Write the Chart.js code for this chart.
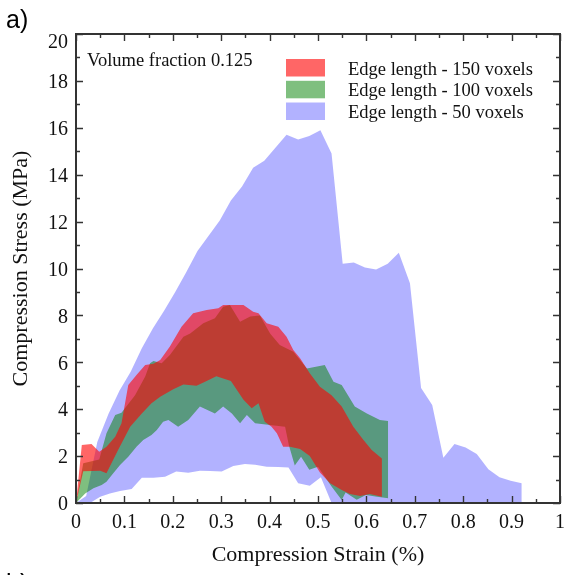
<!DOCTYPE html>
<html>
<head>
<meta charset="utf-8">
<script src="https://cdn.jsdelivr.net/npm/chart.js@4.4.0/dist/chart.umd.min.js"></script>
<style>
html,body{margin:0;padding:0;background:#fff;}
#wrap{position:relative;width:568px;height:575px;overflow:hidden;}
</style>
</head>
<body>
<div id="wrap"><canvas id="c" width="568" height="575"></canvas></div>
<script>
// ---- Data (strain in %, stress in MPa) ----
const seriesLabels = ['Edge length - 150 voxels', 'Edge length - 100 voxels', 'Edge length - 50 voxels'];
const seriesColors = ['rgba(255,0,0,0.6)', 'rgba(0,128,0,0.5)', 'rgba(0,0,255,0.3)'];
const panelNote = 'Volume fraction 0.125';

const redUpperX = [0, 0.012, 0.032, 0.048, 0.063, 0.081, 0.094, 0.108, 0.125, 0.143, 0.160, 0.174, 0.194, 0.218, 0.242, 0.270, 0.294, 0.304, 0.325, 0.346, 0.366, 0.377, 0.394, 0.418, 0.435, 0.449, 0.463, 0.483, 0.504, 0.528, 0.549, 0.573, 0.594, 0.611, 0.632];
const redUpperY = [0, 2.47, 2.52, 2.19, 2.40, 2.83, 3.40, 5.03, 5.46, 5.88, 5.94, 6.10, 6.67, 7.52, 8.09, 8.23, 8.30, 8.44, 8.44, 8.44, 8.16, 8.09, 7.66, 7.52, 7.09, 6.52, 6.17, 5.53, 4.96, 4.60, 4.11, 3.25, 2.69, 2.26, 1.90];
const redLowerX = [0, 0.015, 0.050, 0.063, 0.087, 0.112, 0.136, 0.156, 0.174, 0.201, 0.222, 0.249, 0.270, 0.290, 0.320, 0.346, 0.363, 0.377, 0.390, 0.404, 0.415, 0.428, 0.442, 0.463, 0.483, 0.504, 0.525, 0.549, 0.566, 0.587, 0.607, 0.632];
const redLowerY = [0, 1.35, 1.38, 1.27, 2.26, 3.25, 3.82, 4.25, 4.53, 4.85, 5.05, 5.00, 5.20, 5.40, 5.20, 4.40, 4.04, 4.25, 3.47, 3.25, 2.97, 2.40, 2.40, 2.30, 2.00, 1.30, 0.84, 0.55, 0.38, 0.30, 0.38, 0.27];

const greenUpperX = [0, 0.015, 0.048, 0.063, 0.081, 0.094, 0.122, 0.143, 0.153, 0.160, 0.177, 0.194, 0.222, 0.236, 0.263, 0.287, 0.304, 0.318, 0.339, 0.360, 0.380, 0.401, 0.421, 0.449, 0.477, 0.514, 0.532, 0.549, 0.576, 0.601, 0.628, 0.645];
const greenUpperY = [0, 1.70, 1.85, 2.97, 3.75, 3.85, 4.60, 5.39, 5.96, 6.06, 5.96, 6.31, 7.09, 7.23, 7.66, 7.88, 8.37, 8.44, 7.73, 7.95, 8.00, 7.23, 6.74, 6.45, 5.74, 5.88, 5.17, 5.03, 4.11, 3.82, 3.54, 3.50];
const greenLowerX = [0, 0.019, 0.036, 0.053, 0.063, 0.077, 0.091, 0.108, 0.125, 0.139, 0.156, 0.167, 0.180, 0.191, 0.211, 0.232, 0.256, 0.287, 0.304, 0.322, 0.339, 0.353, 0.370, 0.401, 0.432, 0.440, 0.452, 0.465, 0.482, 0.500, 0.528, 0.549, 0.557, 0.580, 0.599, 0.622, 0.645];
const greenLowerY = [0, 0.41, 0.63, 0.77, 0.91, 1.27, 1.62, 1.97, 2.40, 2.69, 2.90, 3.11, 3.47, 3.54, 3.25, 3.54, 4.11, 3.82, 4.11, 3.82, 3.40, 3.75, 3.40, 3.33, 3.25, 2.45, 1.60, 1.97, 1.42, 1.55, 0.70, 0.13, 0.45, 0.14, 0.34, 0.27, 0.20];

const blueUpperX = [0, 0.021, 0.044, 0.067, 0.090, 0.113, 0.136, 0.159, 0.182, 0.205, 0.228, 0.251, 0.274, 0.297, 0.320, 0.343, 0.366, 0.389, 0.412, 0.435, 0.459, 0.482, 0.505, 0.528, 0.551, 0.574, 0.597, 0.620, 0.644, 0.667, 0.690, 0.713, 0.736, 0.759, 0.782, 0.805, 0.828, 0.852, 0.875, 0.898, 0.921];
const blueUpperY = [0, 0.30, 2.60, 3.80, 4.80, 5.60, 6.60, 7.45, 8.20, 9.00, 9.85, 10.75, 11.40, 12.05, 12.90, 13.50, 14.30, 14.60, 15.15, 15.70, 15.50, 15.65, 15.90, 14.90, 10.20, 10.26, 10.04, 9.96, 10.20, 10.67, 9.37, 4.90, 4.18, 1.93, 2.52, 2.37, 2.09, 1.44, 1.10, 0.95, 0.84];
const blueLowerX = [0, 0.029, 0.050, 0.070, 0.091, 0.115, 0.136, 0.160, 0.184, 0.207, 0.232, 0.256, 0.277, 0.301, 0.325, 0.349, 0.370, 0.394, 0.418, 0.439, 0.459, 0.483, 0.506, 0.528, 0.921];
const blueLowerY = [0, 0, 0.27, 0.41, 0.51, 0.60, 1.08, 1.08, 1.12, 1.34, 1.29, 1.38, 1.36, 1.34, 1.58, 1.66, 1.63, 1.55, 1.54, 1.51, 0.84, 0.74, 1.10, 0, 0];

const xTickValues = [0, 0.1, 0.2, 0.3, 0.4, 0.5, 0.6, 0.7, 0.8, 0.9, 1];
const yTickValues = [0, 2, 4, 6, 8, 10, 12, 14, 16, 18, 20];

// ---- build datasets ----
const pts = (xs, ys) => xs.map((x, i) => ({x: x, y: ys[i]}));
function band(label, color, ux, uy, lx, ly) {
  return [
    {label: label, data: pts(ux, uy), fill: '+1', backgroundColor: color, borderColor: 'rgba(0,0,0,0)', borderWidth: 0, pointRadius: 0, pointHoverRadius: 0, tension: 0},
    {label: label + ' (lower)', data: pts(lx, ly), fill: false, backgroundColor: color, borderColor: 'rgba(0,0,0,0)', borderWidth: 0, pointRadius: 0, pointHoverRadius: 0, tension: 0}
  ];
}
const datasets = [
  ...band(seriesLabels[0], seriesColors[0], redUpperX, redUpperY, redLowerX, redLowerY),
  ...band(seriesLabels[1], seriesColors[1], greenUpperX, greenUpperY, greenLowerX, greenLowerY),
  ...band(seriesLabels[2], seriesColors[2], blueUpperX, blueUpperY, blueLowerX, blueLowerY)
];

const SERIF = '"Liberation Serif", "Times New Roman", serif';
const AXIS = '#333';
const yTop = yTickValues[yTickValues.length - 1];

const decor = {
  id: 'decor',
  afterDatasetsDraw(chart) {
    const {ctx, chartArea: a, scales: {x, y}} = chart;
    ctx.save();
    ctx.strokeStyle = AXIS;
    ctx.lineWidth = 1.4;
    ctx.beginPath();
    for (let i = 0; i <= 20; i++) {
      const px = Math.round(x.getPixelForValue(i * 0.05)) + 0.5;
      const len = i % 2 === 0 ? 7 : 4;
      ctx.moveTo(px, a.bottom); ctx.lineTo(px, a.bottom - len);
      ctx.moveTo(px, a.top); ctx.lineTo(px, a.top + len);
    }
    for (let i = 0; i <= 20; i++) {
      const py = Math.round(y.getPixelForValue(i)) + 0.5;
      const len = i % 2 === 0 ? 7 : 4;
      ctx.moveTo(a.left, py); ctx.lineTo(a.left + len, py);
      ctx.moveTo(a.right, py); ctx.lineTo(a.right - len, py);
    }
    ctx.stroke();
    ctx.lineWidth = 2;
    ctx.strokeRect(a.left, a.top, a.right - a.left, a.bottom - a.top);
    ctx.restore();
  },
  afterDraw(chart) {
    const {ctx, chartArea: a, scales: {y}} = chart;
    ctx.save();
    ctx.fillStyle = '#111';
    ctx.textBaseline = 'alphabetic';
    // top y label sits just below the frame in the reference
    ctx.textAlign = 'right';
    ctx.font = '20px ' + SERIF;
    ctx.fillText(String(yTop), a.left - 8, y.getPixelForValue(yTop) + 14);
    ctx.textAlign = 'left';
    ctx.font = '18.5px ' + SERIF;
    ctx.fillText(panelNote, 87, 66);
    const rows = [74.5, 96.3, 118];
    for (let i = 0; i < 3; i++) {
      ctx.fillStyle = seriesColors[i];
      ctx.fillRect(286, rows[i] - 15.5, 39, 17.5);
      ctx.fillStyle = '#111';
      ctx.fillText(seriesLabels[i], 348, rows[i]);
    }
    ctx.font = '25px "Liberation Sans", Arial, sans-serif';
    ctx.fillStyle = '#000';
    ctx.fillText('a)', 6, 28);
    ctx.fillText('b)', 6, 592);
    ctx.restore();
  }
};

function zeroPad(s) { s.paddingLeft = 0; s.paddingRight = 0; s.paddingTop = 0; s.paddingBottom = 0; }

new Chart(document.getElementById('c'), {
  type: 'line',
  data: {datasets: datasets},
  options: {
    responsive: false,
    animation: false,
    devicePixelRatio: 1,
    layout: {padding: {top: 34, right: 8, bottom: 0, left: 0}},
    plugins: {legend: {display: false}, tooltip: {enabled: false}, filler: {propagate: false}},
    elements: {line: {borderWidth: 0}},
    scales: {
      x: {
        type: 'linear', min: 0, max: 1,
        afterFit: s => { s.height = 72; zeroPad(s); },
        afterBuildTicks: s => { s.ticks = xTickValues.map(v => ({value: v})); },
        ticks: {autoSkip: false, maxRotation: 0, padding: 8, color: '#111',
                font: {family: SERIF, size: 20},
                callback: v => String(+Number(v).toFixed(2))},
        grid: {display: false, drawTicks: false},
        border: {display: false},
        title: {display: true, text: 'Compression Strain (%)', color: '#111',
                font: {family: SERIF, size: 22}, padding: {top: 0, bottom: 7}}
      },
      y: {
        type: 'linear', min: 0, max: 20,
        afterFit: s => { s.width = 76; zeroPad(s); },
        afterBuildTicks: s => { s.ticks = yTickValues.map(v => ({value: v})); },
        ticks: {autoSkip: false, padding: 8, color: '#111', labelOffset: 2,
                font: {family: SERIF, size: 20},
                callback: v => (v === yTop ? '' : String(v))},
        grid: {display: false, drawTicks: false},
        border: {display: false},
        title: {display: true, text: 'Compression Stress (MPa)', color: '#111',
                font: {family: SERIF, size: 22}, padding: {top: 8, bottom: 0}}
      }
    }
  },
  plugins: [decor]
});
</script>
</body>
</html>
